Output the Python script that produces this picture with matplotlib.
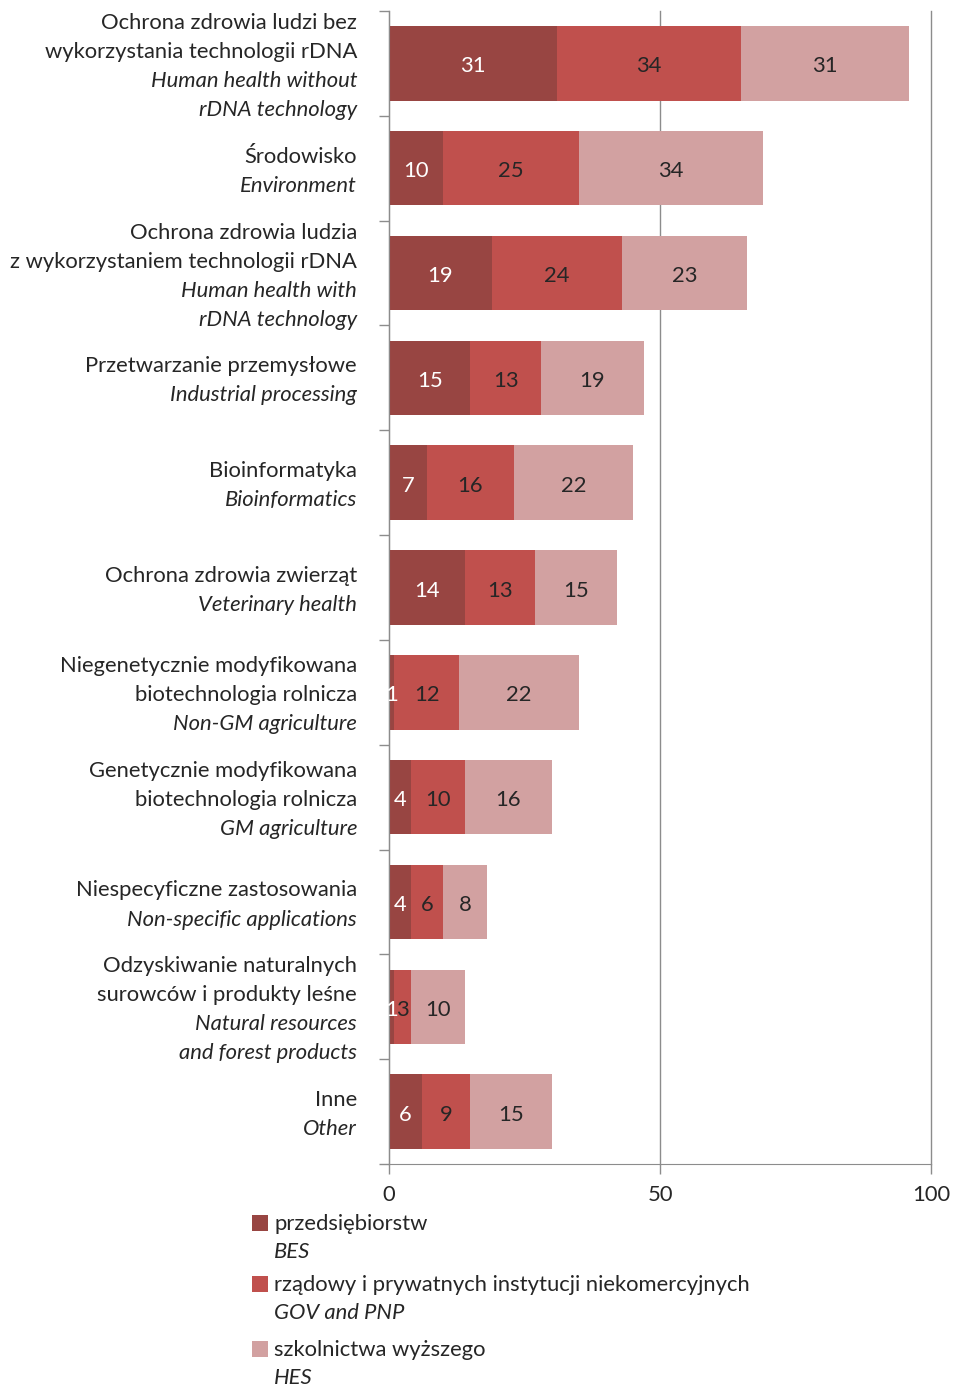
import numpy as np
import matplotlib
matplotlib.use('Agg')
import matplotlib.pyplot as plt
from matplotlib.patches import Rectangle
from matplotlib.transforms import blended_transform_factory

plt.rcParams['font.family'] = ['Lato', 'DejaVu Sans']

# categories, top to bottom: Polish lines, English (italic) lines
labels_pl = [
    ['Ochrona zdrowia ludzi bez', 'wykorzystania technologii rDNA'],
    ['Środowisko'],
    ['Ochrona zdrowia ludzia', 'z wykorzystaniem technologii rDNA'],
    ['Przetwarzanie przemysłowe'],
    ['Bioinformatyka'],
    ['Ochrona zdrowia zwierząt'],
    ['Niegenetycznie modyfikowana', 'biotechnologia rolnicza'],
    ['Genetycznie modyfikowana', 'biotechnologia rolnicza'],
    ['Niespecyficzne zastosowania'],
    ['Odzyskiwanie naturalnych', 'surowców i produkty leśne'],
    ['Inne'],
]
labels_en = [
    ['Human health without', 'rDNA technology'],
    ['Environment'],
    ['Human health with', 'rDNA technology'],
    ['Industrial processing'],
    ['Bioinformatics'],
    ['Veterinary health'],
    ['Non-GM agriculture'],
    ['GM agriculture'],
    ['Non-specific applications'],
    ['Natural resources', 'and forest products'],
    ['Other'],
]
bes = [31, 10, 19, 15, 7, 14, 1, 4, 4, 1, 6]
gov = [34, 25, 24, 13, 16, 13, 12, 10, 6, 3, 9]
hes = [31, 34, 23, 19, 22, 15, 22, 16, 8, 10, 15]

series_pl = ['przedsiębiorstw', 'rządowy i prywatnych instytucji niekomercyjnych', 'szkolnictwa wyższego']
series_en = ['BES', 'GOV and PNP', 'HES']
colors = ['#984542', '#C0504D', '#D2A1A1']
txt_colors = ['white', '#262626', '#262626']
dark = '#262626'
grey = '#8C8C8C'
fs = 15.8
dy = -2.2  # small downward nudge for text centering (points)

fig = plt.figure(figsize=(9.54, 13.88), dpi=100)
ax = fig.add_axes([389/954, 1 - 1164/1388, 542/954, 1153/1388])

n = len(bes)
y = np.arange(n)
left = np.zeros(n)
for vals, c, tc in zip([bes, gov, hes], colors, txt_colors):
    vals = np.array(vals)
    ax.barh(y, vals, left=left, height=0.71, color=c, zorder=2)
    for yi, l, v in zip(y, left, vals):
        ax.annotate(str(v), xy=(l + v / 2, yi), xytext=(0, dy), textcoords='offset points',
                    ha='center', va='center', color=tc, fontsize=fs, zorder=3)
    left = left + vals

ax.set_xlim(0, 100)
ax.set_ylim(n - 0.5, -0.5)
ax.set_xticks([0, 50, 100])
ax.set_xticklabels(['0', '50', '100'], fontsize=fs, color=dark)
ax.xaxis.grid(True, color=grey, linewidth=1, zorder=0)
for gl in ax.get_xgridlines():
    gl.set_clip_on(False)
ax.set_yticks(np.arange(n + 1) - 0.5)
ax.set_yticklabels([])
ax.tick_params(axis='y', length=7, color=grey, width=1)
ax.tick_params(axis='x', length=7, color=grey, width=1, pad=8)
for s in ['top', 'right']:
    ax.spines[s].set_visible(False)
for s in ['left', 'bottom']:
    ax.spines[s].set_color(grey)

# category labels, right aligned, Polish normal then English italic
trans = blended_transform_factory(ax.transAxes, ax.transData)
line_pt = 20.9
for i in range(n):
    lines = [(t, 'normal') for t in labels_pl[i]] + [(t, 'italic') for t in labels_en[i]]
    k = len(lines)
    for j, (t, st) in enumerate(lines):
        off = ((k - 1) / 2 - j) * line_pt + dy
        ax.annotate(t, xy=(0, i), xycoords=trans, xytext=(-23, off), textcoords='offset points',
                    ha='right', va='center', fontsize=fs, style=st, color=dark)

# legend
leg_y = [1223, 1284, 1349]
for yy, c, tp, te in zip(leg_y, colors, series_pl, series_en):
    fy = 1 - yy / 1388
    fig.patches.append(Rectangle((252/954, fy - 8/1388), 16/954, 16/1388, transform=fig.transFigure,
                                 facecolor=c, edgecolor='none'))
    fig.text(274/954, fy - 1/1388, tp, ha='left', va='center', fontsize=fs, color=dark)
    fig.text(274/954, fy - 29/1388, te, ha='left', va='center', fontsize=fs, color=dark, style='italic')

fig.savefig('out.png', dpi=100)
